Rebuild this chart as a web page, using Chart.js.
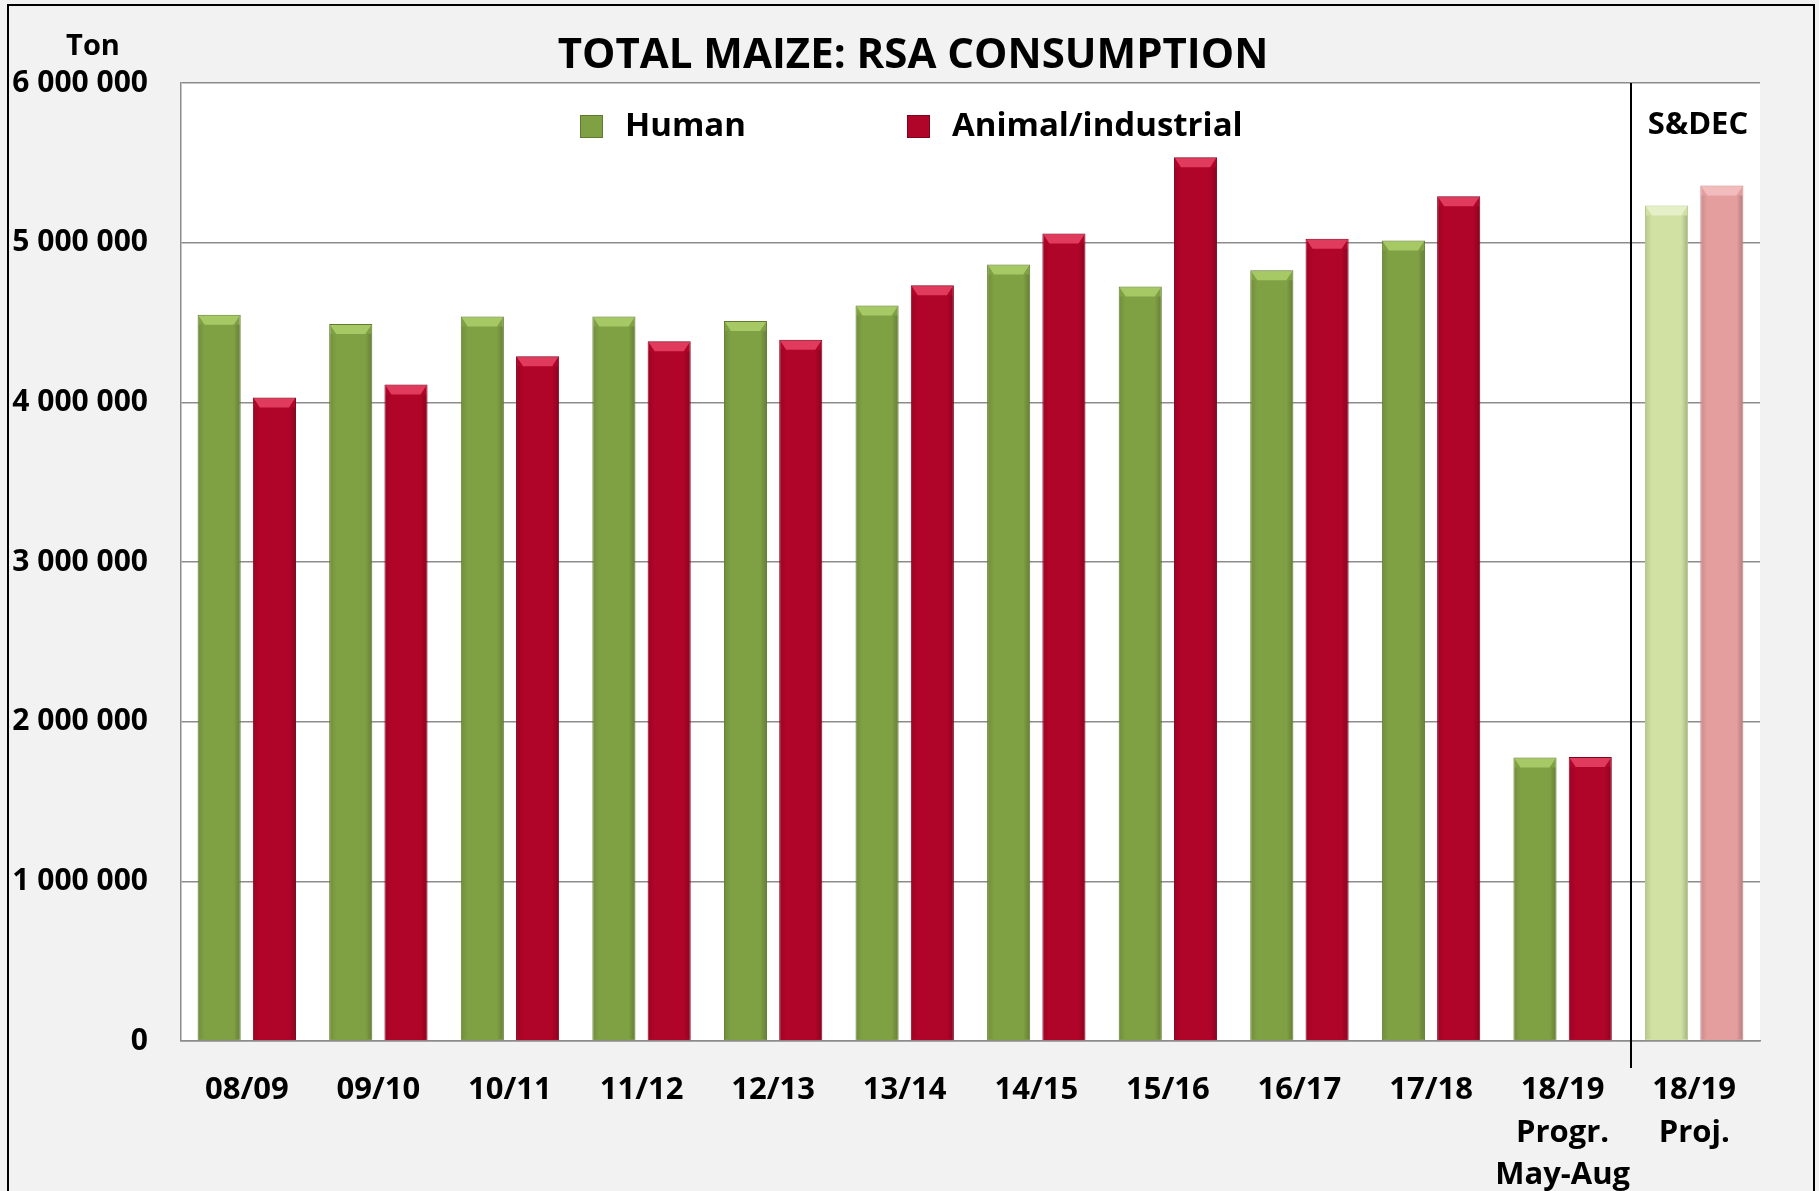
<!DOCTYPE html>
<html>
<head>
<meta charset="utf-8">
<script src="https://cdn.jsdelivr.net/npm/chart.js@4"></script>
<style>
  body { margin: 0; background: #f2f2f2; }
  canvas { display: block; }
</style>
</head>
<body>
<canvas id="maizeChart" width="1819" height="1191"></canvas>
<script>
const categories = [
  '08/09', '09/10', '10/11', '11/12', '12/13', '13/14',
  '14/15', '15/16', '16/17', '17/18',
  ['18/19', 'Progr.', 'May-Aug'],
  ['18/19', 'Proj.']
];
const humanValues = [4549000, 4491000, 4537000, 4537000, 4510000, 4607000, 4863000, 4725000, 4827000, 5013000, 1776000, 5233000];
const animalValues = [4031000, 4112000, 4288000, 4382000, 4392000, 4733000, 5057000, 5535000, 5024000, 5290000, 1778000, 5358000];
const yTicks = [0, 1000000, 2000000, 3000000, 4000000, 5000000, 6000000];

const FONT = "'Open Sans', sans-serif";

// last category (S&DEC projection) is drawn in pale colours
const projIndex = categories.length - 1;
const humanColors = categories.map((_, i) => i === projIndex ? '#d1e1a3' : '#80a044');
const animalColors = categories.map((_, i) => i === projIndex ? '#e49e9e' : '#b00428');
const humanBorders = categories.map((_, i) => i === projIndex ? '#b5c98a' : '#5f7a2e');
const animalBorders = categories.map((_, i) => i === projIndex ? '#c98585' : '#80031d');
const bevelTop = [
  categories.map((_, i) => i === projIndex ? '#e6f0c8' : '#a6c865'),
  categories.map((_, i) => i === projIndex ? '#f2bcbc' : '#e03a5c')
];

function fmt(v) {
  return String(v).replace(/\B(?=(\d{3})+(?!\d))/g, ' ');
}

// soft bevel on each bar, like the office 3D style
const bevel = {
  id: 'bevel',
  afterDatasetsDraw(chart) {
    const ctx = chart.ctx;
    chart.data.datasets.forEach((ds, di) => {
      chart.getDatasetMeta(di).data.forEach((bar, i) => {
        const l = bar.x - bar.width / 2, r = bar.x + bar.width / 2;
        const t = bar.y, b = bar.base;
        const d = 7;
        ctx.save();
        ctx.fillStyle = bevelTop[di][i];
        ctx.beginPath();
        ctx.moveTo(l + 1, t + 1);
        ctx.lineTo(r - 1, t + 1);
        ctx.lineTo(r - d, t + d + 3);
        ctx.lineTo(l + d, t + d + 3);
        ctx.closePath();
        ctx.fill();
        const g = ctx.createLinearGradient(r - d, 0, r, 0);
        g.addColorStop(0, 'rgba(0,0,0,0)');
        g.addColorStop(1, 'rgba(0,0,0,0.22)');
        ctx.fillStyle = g;
        ctx.fillRect(r - d, t + d + 3, d - 1, b - t - d - 4);
        const g2 = ctx.createLinearGradient(l, 0, l + d, 0);
        g2.addColorStop(0, 'rgba(0,0,0,0.12)');
        g2.addColorStop(1, 'rgba(0,0,0,0)');
        ctx.fillStyle = g2;
        ctx.fillRect(l + 1, t + d + 3, d - 1, b - t - d - 4);
        ctx.restore();
      });
    });
  }
};

const decor = {
  id: 'decor',
  beforeDraw(chart) {
    const {ctx, chartArea: a} = chart;
    ctx.save();
    ctx.fillStyle = '#f2f2f2';
    ctx.fillRect(0, 0, chart.width, chart.height);
    ctx.fillStyle = '#ffffff';
    ctx.fillRect(a.left, a.top, a.right - a.left, a.bottom - a.top);
    ctx.restore();
  },
  afterDraw(chart) {
    const {ctx, chartArea: a} = chart;
    const x = chart.scales.x;
    ctx.save();

    // title
    ctx.fillStyle = '#000';
    ctx.textAlign = 'center';
    ctx.textBaseline = 'middle';
    ctx.font = "bold 42px " + FONT;
    ctx.fillText('TOTAL MAIZE: RSA CONSUMPTION', 913, 56);

    // unit
    ctx.font = "bold 29px " + FONT;
    ctx.fillText('Ton', 93, 47);

    // divider before the projection
    const dx = Math.round(x.getPixelForValue(projIndex - 0.5)) + 3;
    ctx.strokeStyle = '#000';
    ctx.lineWidth = 2;
    ctx.beginPath();
    ctx.moveTo(dx, a.top);
    ctx.lineTo(dx, 1068);
    ctx.stroke();

    ctx.font = "bold 31px " + FONT;
    ctx.fillText('S&DEC', 1698, 125);

    // legend
    const items = [
      {label: chart.data.datasets[0].label, color: '#80a044', border: '#5f7a2e', x: 580},
      {label: chart.data.datasets[1].label, color: '#b00428', border: '#80031d', x: 907}
    ];
    ctx.textAlign = 'left';
    ctx.font = "bold 33px " + FONT;
    items.forEach(it => {
      ctx.fillStyle = it.color;
      ctx.fillRect(it.x, 115, 23, 23);
      ctx.strokeStyle = it.border;
      ctx.lineWidth = 1;
      ctx.strokeRect(it.x + 0.5, 115.5, 22, 22);
      ctx.fillStyle = '#000';
      ctx.fillText(it.label, it.x + 45, 127);
    });

    // outer frame
    ctx.strokeStyle = '#000';
    ctx.lineWidth = 2;
    ctx.strokeRect(8, 5, 1806, 1200);
    ctx.restore();
  }
};

new Chart(document.getElementById('maizeChart'), {
  type: 'bar',
  data: {
    labels: categories,
    datasets: [{
      label: 'Human',
      data: humanValues,
      backgroundColor: humanColors,
      borderColor: humanBorders,
      borderWidth: 1
    }, {
      label: 'Animal/industrial',
      data: animalValues,
      backgroundColor: animalColors,
      borderColor: animalBorders,
      borderWidth: 1
    }]
  },
  options: {
    responsive: false,
    animation: false,
    devicePixelRatio: 1,
    categoryPercentage: 0.84,
    barPercentage: 0.78,
    layout: {padding: {top: 83, right: 59, left: 0, bottom: 0}},
    plugins: {
      legend: {display: false},
      title: {display: false},
      tooltip: {enabled: false}
    },
    scales: {
      x: {
        grid: {display: false},
        border: {display: true, color: '#8c8c8c', width: 1.5},
        ticks: {
          color: '#000',
          padding: 20,
          maxRotation: 0,
          autoSkip: false,
          font: {family: FONT, size: 31, weight: 'bold', lineHeight: 1.37}
        },
        afterFit(scale) { scale.height = 150; }
      },
      y: {
        min: 0,
        max: 6000000,
        afterBuildTicks(scale) { scale.ticks = yTicks.map(v => ({value: v})); },
        grid: {color: '#8c8c8c', lineWidth: 1.5, drawTicks: false},
        border: {display: true, color: '#8c8c8c', width: 1.5},
        ticks: {
          color: '#000',
          padding: 33,
          font: {family: FONT, size: 30, weight: 'bold'},
          callback: v => fmt(v)
        },
        afterFit(scale) { scale.width = 181; }
      }
    }
  },
  plugins: [decor, bevel]
});
</script>
</body>
</html>
